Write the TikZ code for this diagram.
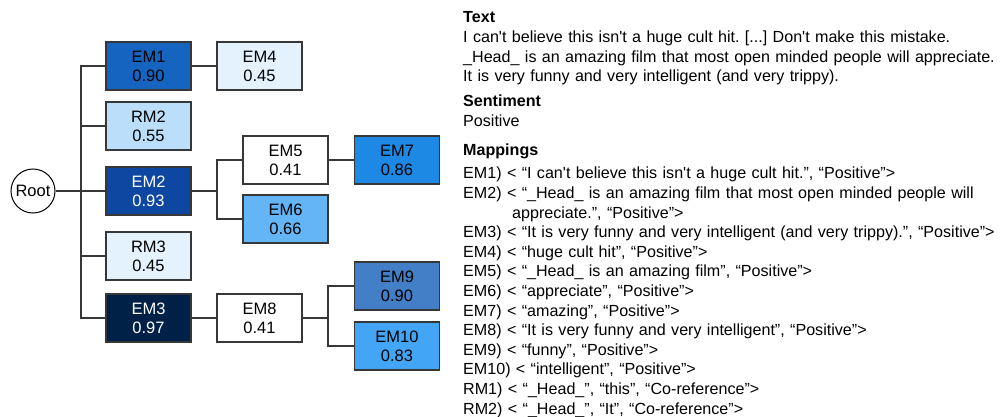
\documentclass[tikz,border=0pt]{standalone}
\usepackage{fontspec}
\newfontfamily\diagfont{Liberation Sans}
\definecolor{em1blue}{RGB}{21,101,192}
\definecolor{em2blue}{RGB}{13,71,161}
\definecolor{em3navy}{RGB}{0,33,71}
\definecolor{em7blue}{RGB}{30,136,229}
\definecolor{em6blue}{RGB}{100,181,246}
\definecolor{em9blue}{RGB}{66,127,199}
\definecolor{em10blue}{RGB}{66,165,245}
\definecolor{rm2blue}{RGB}{187,222,251}
\definecolor{paleblue}{RGB}{227,242,253}
\definecolor{edgegray}{RGB}{55,55,55}

\begin{document}
\begin{tikzpicture}[x=1pt, y=-1pt,
  treebox/.style={draw=edgegray, line width=1.2pt, minimum width=85pt, minimum height=48pt,
    inner sep=0pt, align=center, font=\diagfont\fontsize{16.5}{19}\selectfont},
  link/.style={draw=edgegray, line width=1.3pt},
  infotext/.style={anchor=base west, inner sep=0pt, text width=560pt, align=left,
    font=\diagfont\fontsize{16.1}{19.6}\selectfont\frenchspacing}]
  \useasboundingbox (0,0) rectangle (1005,417);

  % Root
  \node[draw=black, circle, line width=1pt, minimum size=44pt, inner sep=0pt,
    font=\diagfont\fontsize{16.5}{19}\selectfont] (root) at (33,191) {Root};

  % First level
  \node[treebox, fill=em1blue] (em1) at (148.5,66) {EM1\\0.90};
  \node[treebox, fill=rm2blue] (rm2) at (148.5,126) {RM2\\0.55};
  \node[treebox, fill=em2blue, text=white] (em2) at (148.5,191) {EM2\\0.93};
  \node[treebox, fill=paleblue] (rm3) at (148.5,256) {RM3\\0.45};
  \node[treebox, fill=em3navy, text=white] (em3) at (148.5,318) {EM3\\0.97};

  % Second level
  \node[treebox, fill=paleblue] (em4) at (259.5,66) {EM4\\0.45};
  \node[treebox, fill=white] (em5) at (285.5,160) {EM5\\0.41};
  \node[treebox, fill=em6blue] (em6) at (285.5,219) {EM6\\0.66};
  \node[treebox, fill=white] (em8) at (259.5,318) {EM8\\0.41};

  % Third level
  \node[treebox, fill=em7blue] (em7) at (397,160) {EM7\\0.86};
  \node[treebox, fill=em9blue] (em9) at (397,286) {EM9\\0.90};
  \node[treebox, fill=em10blue] (em10) at (397,346) {EM10\\0.83};

  % Links
  \coordinate (trunk) at (81,191);
  \coordinate (fork2) at (217,191);
  \coordinate (fork8) at (328,318);
  \draw[link] (root) -- (em2);
  \draw[link] (em1.west) -| (trunk) |- (em3.west);
  \draw[link] (rm2.west) -- (rm2.west -| trunk);
  \draw[link] (rm3.west) -- (rm3.west -| trunk);
  \draw[link] (em1) -- (em4);
  \draw[link] (em2.east) -- (fork2);
  \draw[link] (em5.west) -| (fork2) |- (em6.west);
  \draw[link] (em5) -- (em7);
  \draw[link] (em3) -- (em8);
  \draw[link] (em8.east) -- (fork8);
  \draw[link] (em9.west) -| (fork8) |- (em10.west);

  % Text and sentiment
  \node[infotext] (textblk) at (463,23) {\textbf{Text}\\
    I can't believe this isn't a huge cult hit. [...] Don't make this mistake.\\
    \_Head\_ is an amazing film that most open minded people will appreciate.\\
    It is very funny and very intelligent (and very trippy).};
  \node[infotext] (sentblk) at (463,107) {\textbf{Sentiment}\\Positive};

  % Mappings
  \node[infotext] (mapblk) at (463,156) {\textbf{Mappings}\\[3.4pt]
    EM1) < “I can't believe this isn't a huge cult hit.”, “Positive”>\\
    EM2) < “\_Head\_ is an amazing film that most open minded people will\\
    \hspace*{49pt}appreciate.”, “Positive”>\\
    EM3) < “It is very funny and very intelligent (and very trippy).”, “Positive”>\\
    EM4) < “huge cult hit”, “Positive”>\\
    EM5) < “\_Head\_ is an amazing film”, “Positive”>\\
    EM6) < “appreciate”, “Positive”>\\
    EM7) < “amazing”, “Positive”>\\
    EM8) < “It is very funny and very intelligent”, “Positive”>\\
    EM9) < “funny”, “Positive”>\\
    EM10) < “intelligent”, “Positive”>\\
    RM1) < “\_Head\_”, “this”, “Co-reference”>\\
    RM2) < “\_Head\_”, “It”, “Co-reference”>};
\end{tikzpicture}
\end{document}
